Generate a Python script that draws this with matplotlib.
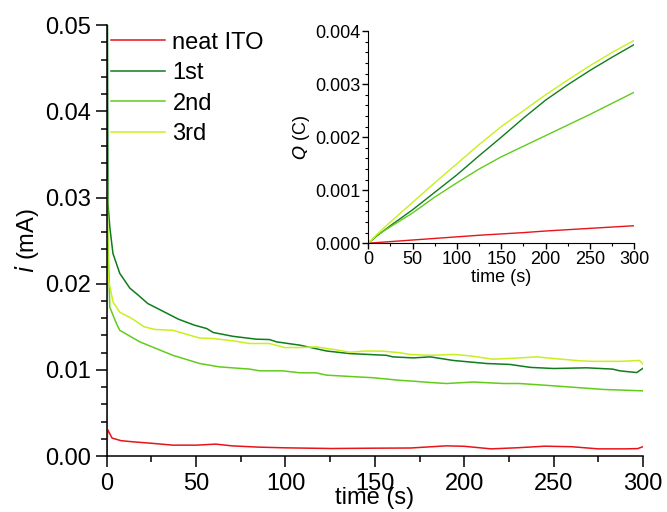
import numpy as np
import matplotlib
matplotlib.use("Agg")
import matplotlib.pyplot as plt
from matplotlib.ticker import MultipleLocator

plt.rcParams['font.family'] = ['Liberation Sans', 'DejaVu Sans']

# current transients, i (mA) vs time (s)
t_ito = [0, 0.5, 3, 8, 15, 25, 37, 50, 61, 70, 85, 100, 126, 150, 170, 190, 200, 215, 230, 245, 260, 275, 290, 297, 300]
i_ito = [0.0, 0.0031, 0.0021, 0.0018, 0.00166, 0.0015, 0.00128, 0.00128, 0.0014, 0.0012, 0.00105, 0.00097, 0.00089,
         0.00093, 0.00095, 0.0012, 0.00115, 0.00085, 0.00098, 0.00116, 0.0011, 0.00085, 0.00085, 0.00088, 0.0011]

t_1st = [0, 0.3, 0.7, 1.7, 3.5, 7.3, 12.9, 17.5, 23, 32.5, 40, 49, 56, 59.5, 70.7, 83.8, 91, 95, 108, 123, 136,
         156.5, 160, 171.5, 181, 194, 212.5, 225.6, 237, 250, 268.5, 283, 287, 296.5, 300]
i_1st = [0, 0.06, 0.0293, 0.0266, 0.0235, 0.0212, 0.0195, 0.0187, 0.0177, 0.0167, 0.0159, 0.0152, 0.0148, 0.01435,
         0.0139, 0.01357, 0.01353, 0.01326, 0.01288, 0.0122, 0.0119, 0.0117, 0.01152, 0.0114, 0.01152, 0.0111,
         0.01075, 0.01064, 0.0103, 0.01017, 0.01025, 0.0101, 0.0099, 0.0097, 0.0102]

t_2nd = [0, 0.3, 1.7, 5.4, 7.3, 18.5, 37, 52, 63, 80, 85.6, 98.5, 108, 117, 123, 140, 149, 164, 171.5, 181, 190,
         205, 222, 231, 250, 278, 300]
i_2nd = [0, 0.028, 0.0173, 0.0154, 0.0146, 0.01326, 0.0117, 0.01075, 0.01036, 0.0101, 0.0099, 0.0099, 0.00967,
         0.00967, 0.0094, 0.0092, 0.0091, 0.0088, 0.0087, 0.00855, 0.00843, 0.0086, 0.00843, 0.00843, 0.00816,
         0.00774, 0.00758]

t_3rd = [0, 0.3, 0.7, 3.5, 7.3, 13.8, 21, 27, 37, 52, 59.5, 70.7, 80, 91, 99.6, 108, 117, 126.5, 136, 145, 154.5,
         164, 169.6, 181, 194, 203, 216, 231, 240.5, 250, 265, 272, 287, 298, 300]
i_3rd = [0, 0.032, 0.0208, 0.0179, 0.0167, 0.016, 0.015, 0.0147, 0.0146, 0.0137, 0.01365, 0.01338, 0.01307,
         0.01307, 0.0126, 0.0126, 0.01268, 0.0124, 0.01206, 0.0122, 0.01218, 0.0120, 0.0118, 0.0117, 0.0118,
         0.01164, 0.01125, 0.0114, 0.01152, 0.01133, 0.01106, 0.0110, 0.0110, 0.0111, 0.0107]

# inset: charge Q (C) vs time (s)
t_q = [0, 10, 25, 50, 75, 100, 125, 150, 175, 200, 225, 250, 275, 300]
q_ito = [0, 0.000012, 0.00003, 0.00006, 0.00009, 0.00012, 0.00015, 0.000175, 0.0002, 0.00023, 0.000255,
         0.00028, 0.000305, 0.00033]
q_1st = [0, 0.00014, 0.00033, 0.00063, 0.00096, 0.00129, 0.00165, 0.0020, 0.00236, 0.0027, 0.00299,
         0.00326, 0.00351, 0.00375]
q_2nd = [0, 0.00015, 0.00031, 0.00057, 0.00087, 0.00114, 0.0014, 0.00163, 0.00183, 0.00203, 0.00223,
         0.00243, 0.00264, 0.00285]
q_3rd = [0, 0.00017, 0.0004, 0.00077, 0.00114, 0.0015, 0.00186, 0.0022, 0.0025, 0.0028, 0.00308,
         0.00335, 0.0036, 0.00383]

labels = ['neat ITO', '1st', '2nd', '3rd']
colors = ['#e8141a', '#107c1c', '#62cc1a', '#c8f01e']

fig = plt.figure(figsize=(6.67, 5.12), dpi=100)
ax = fig.add_axes([0.160, 0.109, 0.804, 0.842])

for t, v, c, lab in zip([t_ito, t_1st, t_2nd, t_3rd], [i_ito, i_1st, i_2nd, i_3rd], colors, labels):
    ax.plot(t, v, color=c, lw=1.1, label=lab)

ax.set_xlim(0, 300)
ax.set_ylim(0, 0.05)
ax.xaxis.set_major_locator(MultipleLocator(50))
ax.xaxis.set_minor_locator(MultipleLocator(25))
ax.yaxis.set_major_locator(MultipleLocator(0.01))
ax.yaxis.set_minor_locator(MultipleLocator(0.002))
ax.yaxis.set_major_formatter(matplotlib.ticker.FormatStrFormatter('%.2f'))
for s in ['top', 'right']:
    ax.spines[s].set_visible(False)
for s in ['left', 'bottom']:
    ax.spines[s].set_linewidth(1.1)
ax.tick_params(which='major', length=8, width=1.1, labelsize=17, direction='out', pad=3)
ax.tick_params(axis='x', which='major', pad=4)
ax.tick_params(which='minor', length=4, width=1.1, direction='out')
ax.set_xlabel('time (s)', fontsize=17, labelpad=-6)
ax.set_ylabel('$\\it{i}$ (mA)', fontsize=17, labelpad=3)

ax.legend(loc='upper left', bbox_to_anchor=(0.008, 0.985), frameon=False, fontsize=17,
          handlelength=2.3, handletextpad=0.3, labelspacing=0.36, borderpad=0, borderaxespad=0)

# inset
ins = fig.add_axes([0.552, 0.525, 0.399, 0.414])
for t, v, c in zip([t_q] * 4, [q_ito, q_1st, q_2nd, q_3rd], colors):
    ins.plot(t, v, color=c, lw=1.0)
ins.set_xlim(0, 300)
ins.set_ylim(0, 0.004)
ins.xaxis.set_major_locator(MultipleLocator(50))
ins.xaxis.set_minor_locator(MultipleLocator(25))
ins.yaxis.set_major_locator(MultipleLocator(0.001))
ins.yaxis.set_minor_locator(MultipleLocator(0.0002))
ins.yaxis.set_major_formatter(matplotlib.ticker.FormatStrFormatter('%.3f'))
for s in ['top', 'right']:
    ins.spines[s].set_visible(False)
ins.tick_params(which='major', length=4, width=1.0, labelsize=13, direction='out', pad=1.5)
ins.tick_params(which='minor', length=2, width=0.8, direction='out')
ins.set_xlabel('time (s)', fontsize=13, labelpad=1)
ins.set_ylabel('$\\it{Q}$ (C)', fontsize=13, labelpad=2)

fig.savefig('out.png', dpi=100)
